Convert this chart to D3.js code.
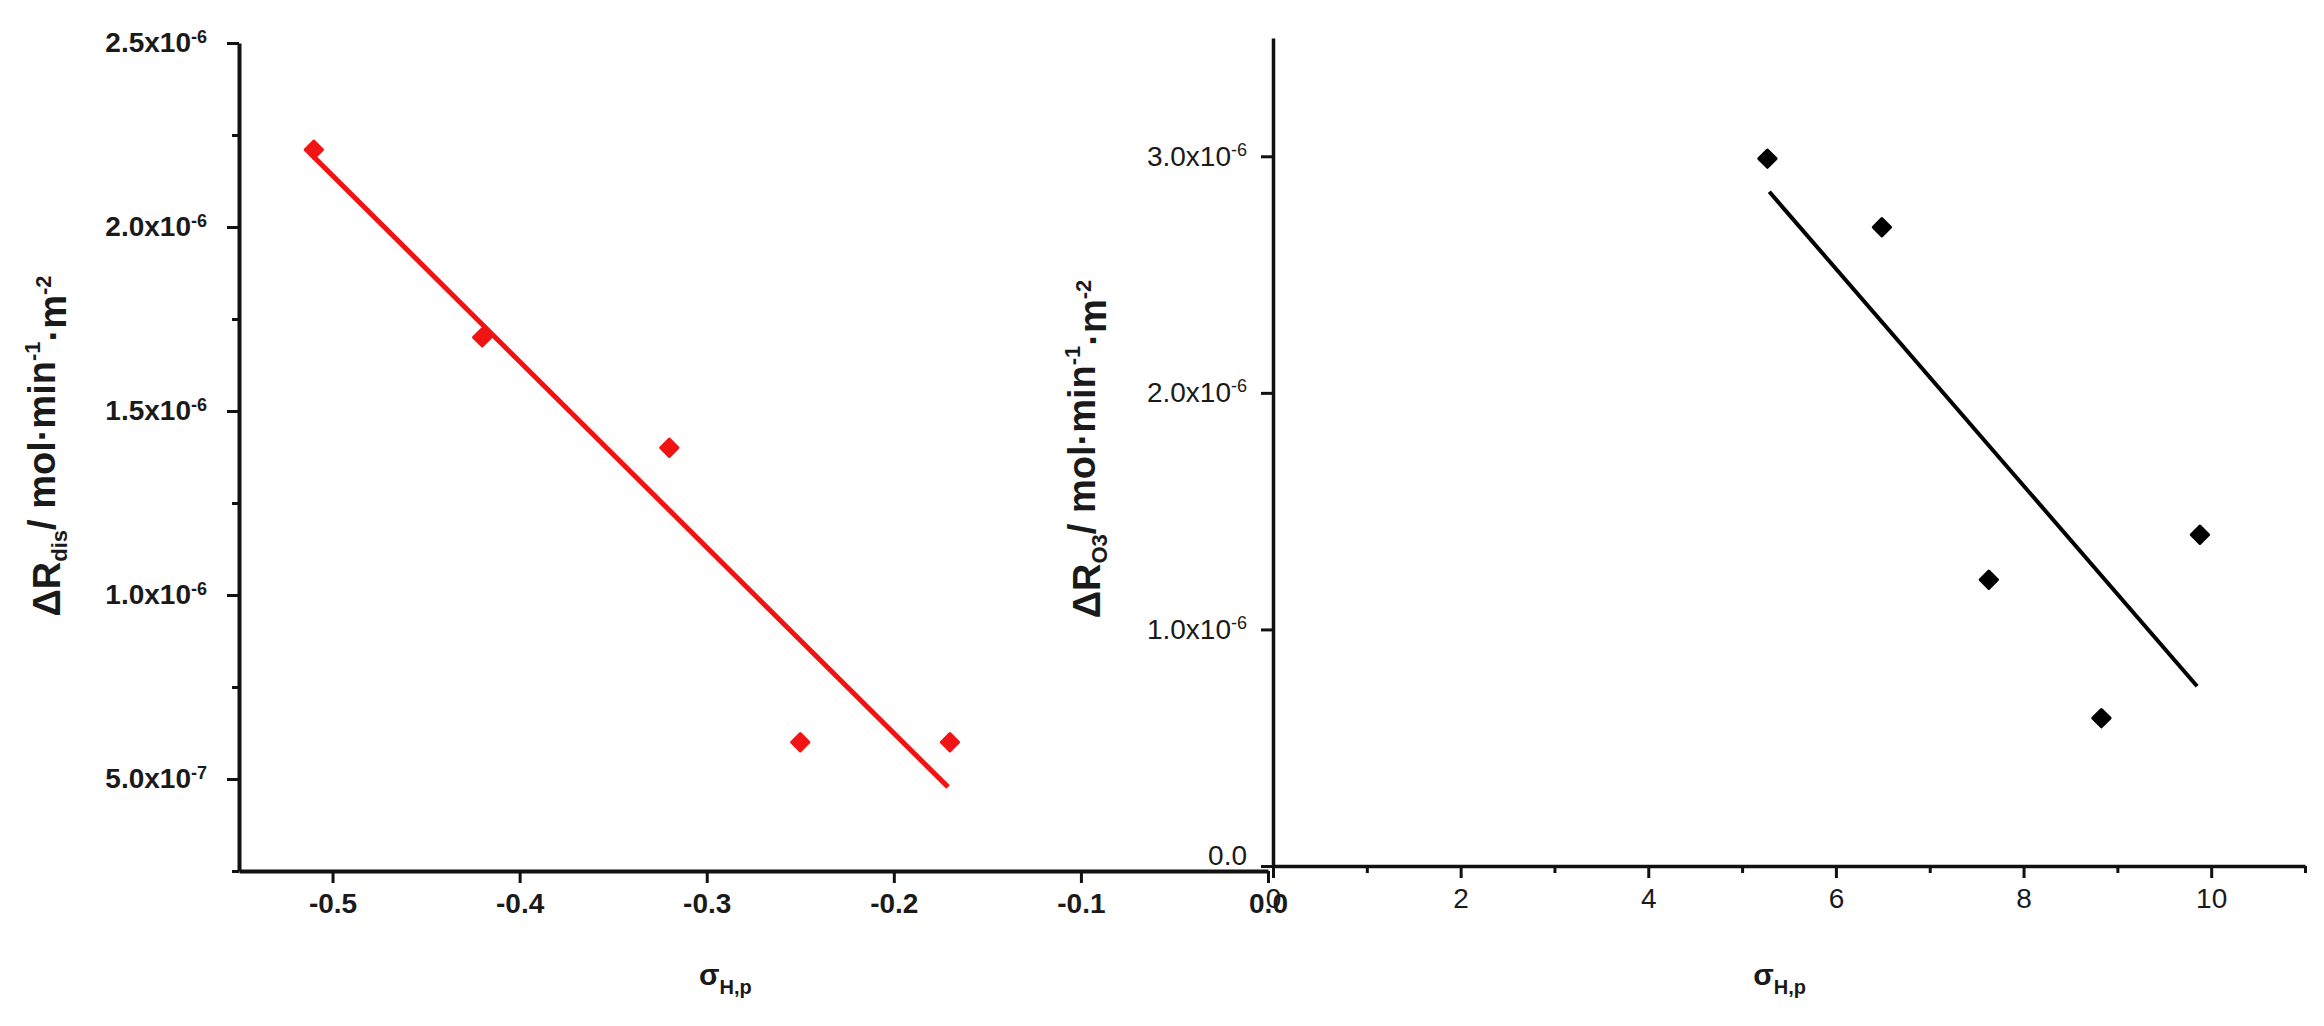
<!DOCTYPE html>
<html>
<head>
<meta charset="utf-8">
<script src="https://cdn.jsdelivr.net/npm/d3@7"></script>
<style>
  body { margin: 0; background: #fff; }
  svg { display: block; }
  .tick text { font-family: "Liberation Sans", Arial, sans-serif; }
</style>
</head>
<body>
<div id="main"></div>
<script>
// left panel: sigma vs rate (red)
const sigmaLeft = [-0.51, -0.42, -0.32, -0.25, -0.17];
const rateLeft = [2.21e-6, 1.70e-6, 1.40e-6, 6.0e-7, 6.0e-7];
const fitLeftX = [-0.51, -0.171];
const fitLeftY = [2.19e-6, 4.78e-7];

// right panel (black)
const sigmaRight = [5.27, 6.49, 7.63, 8.83, 9.88];
const rateRight = [2.99e-6, 2.70e-6, 1.21e-6, 6.25e-7, 1.40e-6];
const fitRightX = [5.29, 9.85];
const fitRightY = [2.85e-6, 7.6e-7];

// ticks
const leftXTicks = [-0.5, -0.4, -0.3, -0.2, -0.1, 0.0];
const leftXLabels = ["-0.5", "-0.4", "-0.3", "-0.2", "-0.1", "0.0"];
const leftYTicks = [5e-7, 1e-6, 1.5e-6, 2e-6, 2.5e-6];
const leftYMant = ["5.0", "1.0", "1.5", "2.0", "2.5"];
const leftYExp = ["-7", "-6", "-6", "-6", "-6"];
const leftYMinor = [2.5e-7, 7.5e-7, 1.25e-6, 1.75e-6, 2.25e-6];

const rightXTicks = [0, 2, 4, 6, 8, 10];
const rightXLabels = ["0", "2", "4", "6", "8", "10"];
const rightXMinor = [1, 3, 5, 7, 9, 11];
const rightYTicks = [0, 1e-6, 2e-6, 3e-6];
const rightYMant = ["0.0", "1.0", "2.0", "3.0"];
const rightYExp = ["", "-6", "-6", "-6"];

const W = 2324, H = 1026;
const font = '"Liberation Sans", Arial, sans-serif';

const svg = d3.select("#main").append("svg")
  .attr("width", W)
  .attr("height", H);

const xL = d3.scaleLinear().domain([-0.55, 0]).range([239, 1268]);
const yL = d3.scaleLinear().domain([2.5e-7, 2.5e-6]).range([871, 43]);
const xR = d3.scaleLinear().domain([0, 11]).range([1273, 2305]);
const yR = d3.scaleLinear().domain([0, 3.5e-6]).range([866, 38]);

function styleAxis(g, width, weight) {
  g.select(".domain").attr("stroke", "#111").attr("stroke-width", width);
  g.selectAll(".tick line").attr("stroke", "#111").attr("stroke-width", 3);
  g.selectAll(".tick text")
    .attr("fill", "#1a1a1a")
    .style("font-size", "28px")
    .style("font-weight", weight);
}

// sci labels like 2.5x10^-6 built from tspans
function sciLabels(g, mant, exps) {
  g.selectAll(".tick text").each(function(d, i) {
    const t = d3.select(this).text("");
    if (exps[i] === "") {
      t.append("tspan").text(mant[i]);
      return;
    }
    t.append("tspan").text(mant[i] + "x10");
    t.append("tspan").attr("dy", "-0.55em").style("font-size", "18px").text(exps[i]);
  });
}

// ---- left panel ----
const gLX = svg.append("g")
  .attr("transform", `translate(0,${yL.range()[0]})`)
  .call(d3.axisBottom(xL).tickValues(leftXTicks).tickSize(12).tickSizeOuter(0).tickPadding(10)
    .tickFormat((d, i) => leftXLabels[i]));
styleAxis(gLX, 4, "bold");

const gLY = svg.append("g")
  .attr("transform", `translate(${xL.range()[0]},0)`)
  .call(d3.axisLeft(yL).tickValues(leftYTicks).tickSize(12).tickSizeOuter(0).tickPadding(20));
styleAxis(gLY, 4, "bold");
sciLabels(gLY, leftYMant, leftYExp);

svg.append("g")
  .attr("transform", `translate(${xL.range()[0]},0)`)
  .call(d3.axisLeft(yL).tickValues(leftYMinor).tickSize(7).tickFormat(""))
  .call(g => g.select(".domain").remove())
  .selectAll("line").attr("stroke", "#111").attr("stroke-width", 3);

svg.append("line")
  .attr("x1", xL(fitLeftX[0])).attr("y1", yL(fitLeftY[0]))
  .attr("x2", xL(fitLeftX[1])).attr("y2", yL(fitLeftY[1]))
  .attr("stroke", "#f21212")
  .attr("stroke-width", 5);

const marker = d3.symbol().type(d3.symbolSquare).size(150);

svg.append("g").selectAll("path")
  .data(sigmaLeft)
  .enter()
  .append("path")
    .attr("d", marker)
    .attr("transform", (d, i) => `translate(${xL(d)},${yL(rateLeft[i])}) rotate(45)`)
    .attr("fill", "#f01414")
    .attr("stroke", "#f01414")
    .attr("stroke-width", 3)
    .attr("stroke-linejoin", "round");

// ---- right panel ----
const gRX = svg.append("g")
  .attr("transform", `translate(0,${yR.range()[0]})`)
  .call(d3.axisBottom(xR).tickValues(rightXTicks).tickSize(12).tickSizeOuter(0).tickPadding(10)
    .tickFormat((d, i) => rightXLabels[i]));
styleAxis(gRX, 3.5, "normal");

svg.append("g")
  .attr("transform", `translate(0,${yR.range()[0]})`)
  .call(d3.axisBottom(xR).tickValues(rightXMinor).tickSize(7).tickFormat(""))
  .call(g => g.select(".domain").remove())
  .selectAll("line").attr("stroke", "#111").attr("stroke-width", 3);

const gRY = svg.append("g")
  .attr("transform", `translate(${xR.range()[0]},0)`)
  .call(d3.axisLeft(yR).tickValues(rightYTicks).tickSize(12).tickSizeOuter(0).tickPadding(14));
styleAxis(gRY, 3.5, "normal");
sciLabels(gRY, rightYMant, rightYExp);
gRY.selectAll(".tick text").filter(d => d === 0).attr("y", -10);

svg.append("line")
  .attr("x1", xR(fitRightX[0])).attr("y1", yR(fitRightY[0]))
  .attr("x2", xR(fitRightX[1])).attr("y2", yR(fitRightY[1]))
  .attr("stroke", "#000")
  .attr("stroke-width", 4);

svg.append("g").selectAll("path")
  .data(sigmaRight)
  .enter()
  .append("path")
    .attr("d", marker)
    .attr("transform", (d, i) => `translate(${xR(d)},${yR(rateRight[i])}) rotate(45)`)
    .attr("fill", "#000")
    .attr("stroke", "#000")
    .attr("stroke-width", 3)
    .attr("stroke-linejoin", "round");

// ---- axis titles ----
function yTitle(x, y, sub) {
  const t = svg.append("text")
    .attr("transform", `translate(${x},${y}) rotate(-90)`)
    .attr("text-anchor", "middle")
    .style("font-family", font)
    .style("font-size", "38px")
    .style("font-weight", "bold")
    .attr("fill", "#1a1a1a");
  t.append("tspan").text("ΔR");
  t.append("tspan").attr("dy", "0.3em").style("font-size", "22px").text(sub);
  t.append("tspan").attr("dy", "-0.3em").text("/ mol·min");
  t.append("tspan").attr("dy", "-0.7em").style("font-size", "22px").text("-1");
  t.append("tspan").attr("dy", "0.7em").text("·m");
  t.append("tspan").attr("dy", "-0.7em").style("font-size", "22px").text("-2");
}
yTitle(60, 446, "dis");
yTitle(1100, 449, "O3");

function xTitle(x, y) {
  const t = svg.append("text")
    .attr("x", x).attr("y", y)
    .attr("text-anchor", "middle")
    .style("font-family", font)
    .style("font-weight", "bold")
    .attr("fill", "#1a1a1a");
  t.append("tspan").style("font-size", "30px").text("σ");
  t.append("tspan").attr("dy", "0.45em").style("font-size", "20px").text("H,p");
}
xTitle(xL(-0.29), 985);
xTitle(xR(5.4), 985);
</script>
</body>
</html>
